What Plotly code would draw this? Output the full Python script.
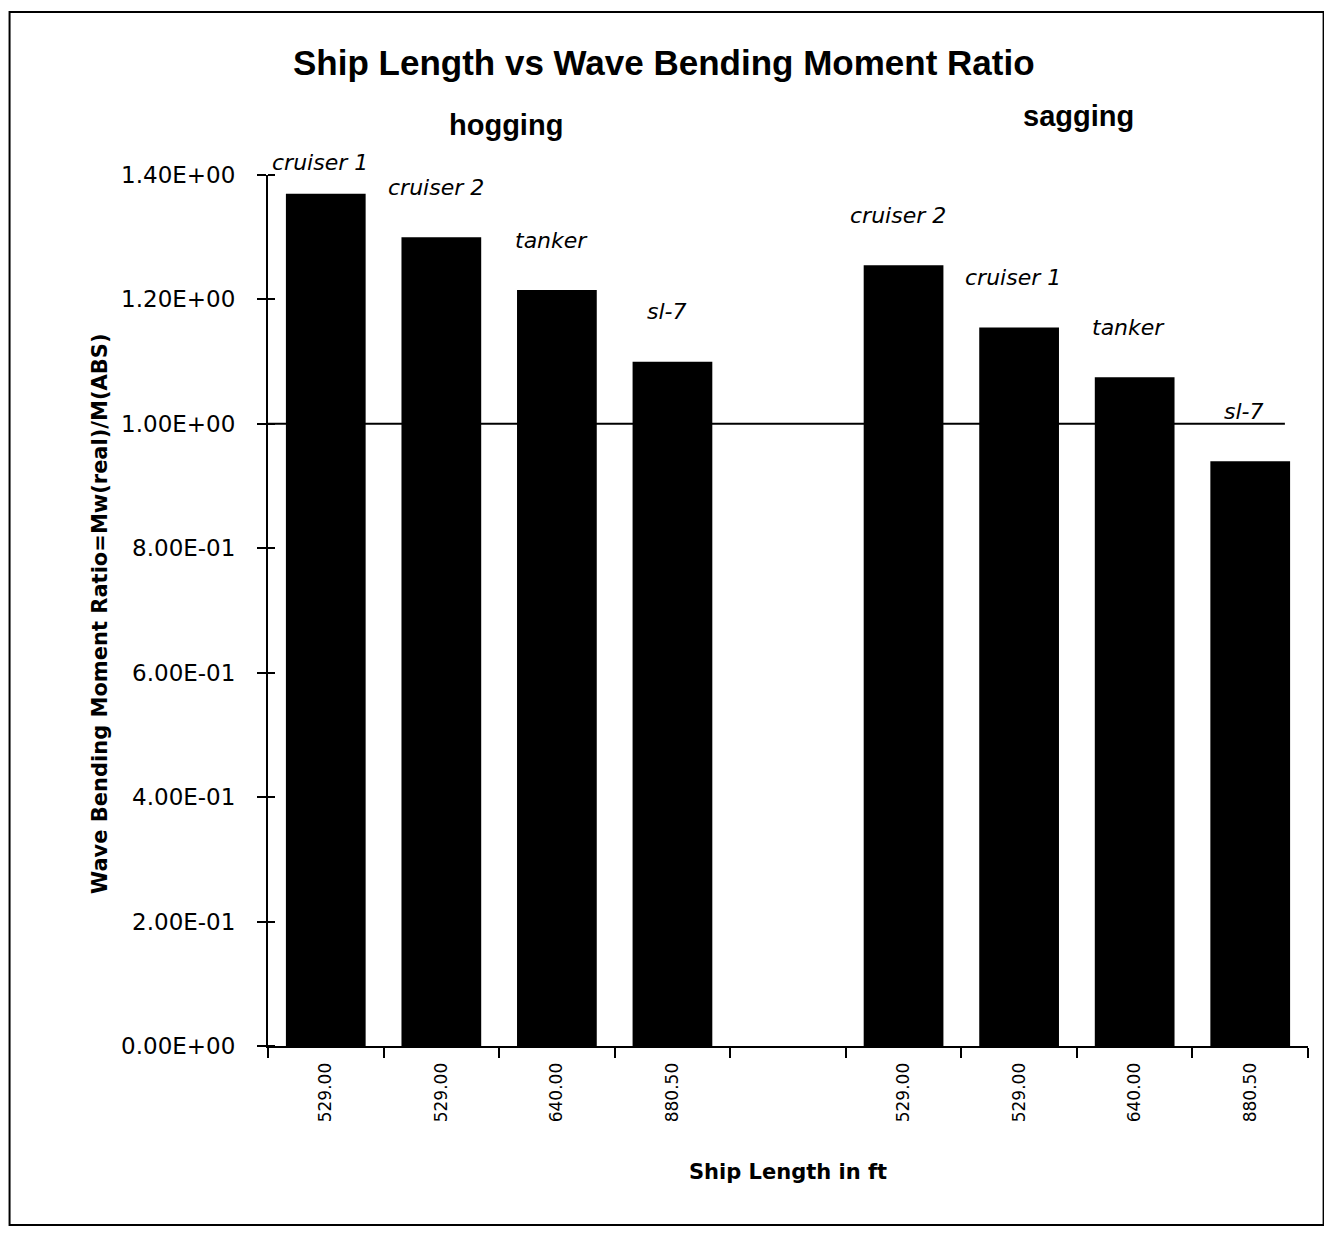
import plotly.graph_objects as go

# ---- data ----
hogging_ships = ["cruiser 1", "cruiser 2", "tanker", "sl-7"]
hogging_lengths = [529.00, 529.00, 640.00, 880.50]
hogging_ratio = [1.37, 1.30, 1.215, 1.10]

sagging_ships = ["cruiser 2", "cruiser 1", "tanker", "sl-7"]
sagging_lengths = [529.00, 529.00, 640.00, 880.50]
sagging_ratio = [1.255, 1.155, 1.075, 0.94]

y_ticks = [0.0, 0.2, 0.4, 0.6, 0.8, 1.0, 1.2, 1.4]
reference_ratio = 1.0

# ---- layout helpers ----
hog_x = list(range(len(hogging_ratio)))
sag_x = [len(hogging_ratio) + 1 + i for i in range(len(sagging_ratio))]
n_slots = len(hogging_ratio) + 1 + len(sagging_ratio)

FONT = "Liberation Sans, Arial, Helvetica, sans-serif"
WIDE = "DejaVu Sans, Verdana, sans-serif"
PX_PER_UNIT = 871 / 1.4

fig = go.Figure()
fig.add_trace(go.Bar(x=hog_x, y=hogging_ratio, marker=dict(color="black", line=dict(width=0)),
                     width=0.69, name="hogging", showlegend=False))
fig.add_trace(go.Bar(x=sag_x, y=sagging_ratio, marker=dict(color="black", line=dict(width=0)),
                     width=0.69, name="sagging", showlegend=False))

# reference line at ratio = 1
fig.add_trace(go.Scatter(x=[-0.5, n_slots - 0.7], y=[reference_ratio, reference_ratio],
                         mode="lines", line=dict(color="black", width=2),
                         showlegend=False, hoverinfo="skip"))

annotations = []
for xs, ys, names in [(hog_x, hogging_ratio, hogging_ships), (sag_x, sagging_ratio, sagging_ships)]:
    for xv, yv, nm in zip(xs, ys, names):
        shift = min(50, (1.42 - yv) * PX_PER_UNIT)
        annotations.append(dict(x=xv - 0.05, y=yv, xref="x", yref="y", yshift=shift,
                                text=f"<i>{nm}</i>", showarrow=False,
                                font=dict(family=WIDE, size=22, color="black"),
                                xanchor="center", yanchor="middle"))

annotations += [
    dict(x=0.229, y=1.0575, xref="paper", yref="paper", text="<b>hogging</b>", showarrow=False,
         xanchor="center", yanchor="middle",
         font=dict(family=FONT, size=29, color="black")),
    dict(x=0.779, y=1.068, xref="paper", yref="paper", text="<b>sagging</b>", showarrow=False,
         xanchor="center", yanchor="middle",
         font=dict(family=FONT, size=29, color="black")),
    dict(x=0.5, y=-0.145, xref="paper", yref="paper", text="<b>Ship Length in ft</b>",
         xanchor="center", yanchor="middle",
         showarrow=False, font=dict(family=WIDE, size=21, color="black")),
    dict(x=-0.1615, y=0.496, xref="paper", yref="paper",
         text="<b>Wave Bending Moment Ratio=Mw(real)/M(ABS)</b>", textangle=-90,
         xanchor="center", yanchor="middle",
         showarrow=False, font=dict(family=WIDE, size=21, color="black")),
    dict(x=0.381, y=1.129, xref="paper", yref="paper",
         text="<b>Ship Length vs Wave Bending Moment Ratio</b>", showarrow=False,
         xanchor="center", yanchor="middle",
         font=dict(family=FONT, size=35, color="black")),
]

tick_labels = [f"{v:.2f}" for v in hogging_lengths] + [""] + [f"{v:.2f}" for v in sagging_lengths]

fig.update_layout(
    width=1332, height=1237,
    margin=dict(l=260, r=32, t=167, b=199),
    paper_bgcolor="white", plot_bgcolor="white",
    font=dict(family=FONT, color="black"),
    annotations=annotations,
    shapes=[dict(type="rect", xref="paper", yref="paper", x0=-0.2485, x1=1.015,
                 y0=-0.2055, y1=1.187, line=dict(color="black", width=2))],
    xaxis=dict(
        range=[-0.5, n_slots - 0.5],
        tickmode="array", tickvals=list(range(n_slots)), ticktext=tick_labels,
        ticks="", tickangle=-90, tickfont=dict(family=WIDE, size=17, color="black"),
        showline=True, linecolor="black", linewidth=2, showgrid=False, zeroline=False,
        minor=dict(tickmode="array", tickvals=[i - 0.5 for i in range(n_slots + 1)],
                   ticks="outside", ticklen=10, tickwidth=2, tickcolor="black", showgrid=False),
        ticklabelstandoff=8,
    ),
    yaxis=dict(
        range=[0, 1.4],
        tickmode="array", tickvals=y_ticks, ticktext=[f"{v:.2E}" for v in y_ticks],
        ticks="outside", ticklen=9, tickwidth=2, tickcolor="black",
        tickfont=dict(family=WIDE, size=23, color="black"),
        showline=True, linecolor="black", linewidth=2, showgrid=False, zeroline=False,
        minor=dict(tickmode="array", tickvals=y_ticks, ticks="inside", ticklen=7,
                   tickwidth=2, tickcolor="black", showgrid=False),
        ticklabelstandoff=17,
    ),
    bargap=0.3,
)

fig.write_html("out.html")
